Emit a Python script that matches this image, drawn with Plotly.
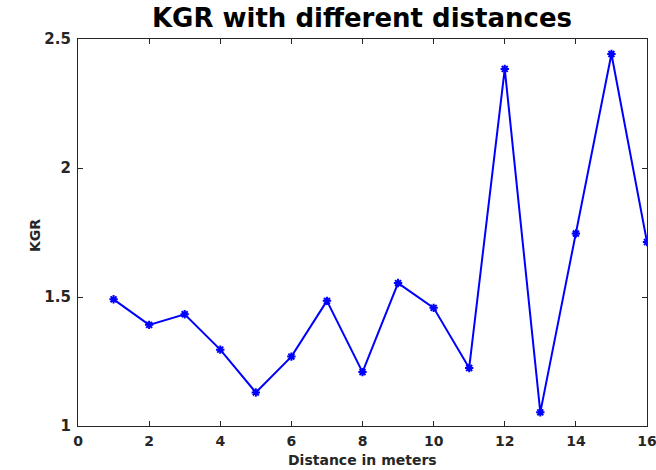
import plotly.graph_objects as go

distance = [1, 2, 3, 4, 5, 6, 7, 8, 9, 10, 11, 12, 13, 14, 15, 16]
kgr = [1.491, 1.392, 1.433, 1.296, 1.130, 1.269, 1.485, 1.209, 1.554, 1.458,
       1.225, 2.384, 1.053, 1.746, 2.442, 1.713]
x_ticks = [0, 2, 4, 6, 8, 10, 12, 14, 16]
y_ticks = [1, 1.5, 2, 2.5]
y_tick_text = ["1", "1.5", "2", "2.5"]
title_text = "KGR with different distances"
x_label = "Distance in meters"
y_label = "KGR"

font_family = "DejaVu Sans, Liberation Sans, Arial, sans-serif"
axis_color = "#262626"

W, H = 656, 470
ML, MR, MT, MB = 78, 9, 39, 44
plot_w = W - ML - MR
plot_h = H - MT - MB

fig = go.Figure()
fig.add_trace(go.Scatter(
    x=distance, y=kgr, mode="lines+markers",
    line=dict(color="#0000FF", width=2),
    marker=dict(symbol="asterisk-open", size=7, color="#0000FF",
                line=dict(color="#0000FF", width=2)),
    showlegend=False, hoverinfo="skip",
))

fig.update_layout(
    width=W, height=H,
    margin=dict(l=ML, r=MR, t=MT, b=MB, autoexpand=False),
    paper_bgcolor="white", plot_bgcolor="white",
    title=dict(text=f"<b>{title_text}</b>", x=362 / W, xanchor="center",
               y=1 - 18 / H, yanchor="middle",
               font=dict(family=font_family, size=26, color="black")),
    font=dict(family=font_family, color=axis_color),
)

fig.update_xaxes(
    range=[0, 16], tickvals=x_ticks, ticktext=[f"<b>{v}</b>" for v in x_ticks],
    ticks="inside", ticklen=5, tickwidth=1, tickcolor=axis_color,
    showline=True, linecolor=axis_color, linewidth=1.3, mirror="ticks",
    showgrid=False, zeroline=False, ticklabeloverflow="allow",
    ticklabelstandoff=2, automargin=False,
    tickfont=dict(family=font_family, size=14, color=axis_color),
)
fig.update_yaxes(
    range=[1, 2.5], tickvals=y_ticks, ticktext=[f"<b>{t}</b>" for t in y_tick_text],
    ticks="inside", ticklen=5, tickwidth=1, tickcolor=axis_color,
    showline=True, linecolor=axis_color, linewidth=1.3, mirror="ticks",
    showgrid=False, zeroline=False, ticklabelstandoff=3, automargin=False,
    tickfont=dict(family=font_family, size=15, color=axis_color),
)

fig.add_annotation(
    text=f"<b>{x_label}</b>", xref="paper", yref="paper",
    x=(362 - ML) / plot_w, y=-(460 - (H - MB)) / plot_h,
    xanchor="center", yanchor="middle", showarrow=False,
    font=dict(family=font_family, size=14, color=axis_color),
)
fig.add_annotation(
    text=f"<b>{y_label}</b>", xref="paper", yref="paper",
    x=(35 - ML) / plot_w, y=((H - MB) - 236) / plot_h,
    xanchor="center", yanchor="middle", showarrow=False, textangle=-90,
    font=dict(family=font_family, size=14, color=axis_color),
)

fig.write_html("out.html", config={"displayModeBar": False},
               post_script="document.body.style.margin='0px';")
